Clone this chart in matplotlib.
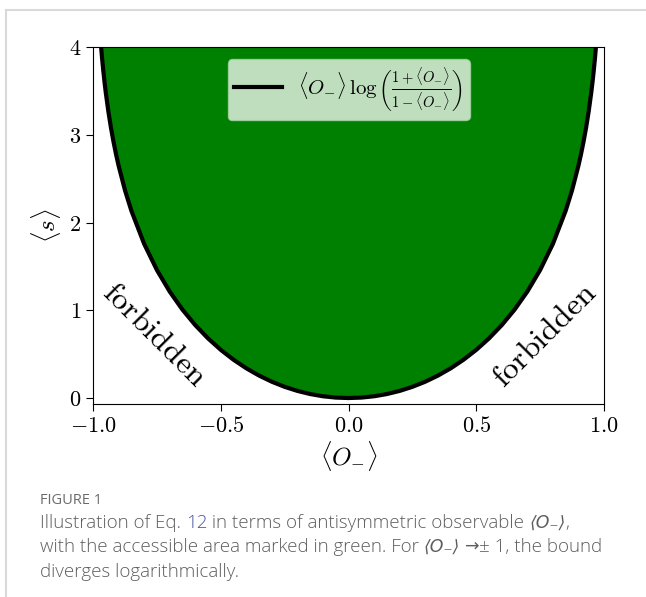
import matplotlib
matplotlib.use("Agg")
from matplotlib import pyplot as plt
from matplotlib.lines import Line2D

plt.rcParams['mathtext.fontset'] = 'cm'

# values of the bound curve (right half, mirrored for the left)
o_pos = [0.0, 0.05, 0.1, 0.15, 0.2, 0.25, 0.3, 0.35, 0.4, 0.45, 0.5, 0.55, 0.6,
         0.65, 0.7, 0.75, 0.8, 0.85, 0.875, 0.9, 0.91, 0.92, 0.93, 0.94, 0.95,
         0.955, 0.96, 0.965, 0.97, 0.975]
s_pos = [0.0, 0.0050, 0.0201, 0.0453, 0.0811, 0.1277, 0.1857, 0.2558, 0.3389,
         0.4362, 0.5493, 0.6802, 0.8318, 1.0079, 1.2142, 1.4594, 1.7578, 2.1355,
         2.3695, 2.6500, 2.7801, 2.9238, 3.0846, 3.2675, 3.4804, 3.6018, 3.7361,
         3.8869, 4.0591, 4.2602]

o_vals = [-v for v in reversed(o_pos[1:])] + o_pos
s_vals = list(reversed(s_pos[1:])) + s_pos

x_ticks = [-1.0, -0.5, 0.0, 0.5, 1.0]
y_ticks = [0, 1, 2, 3, 4]
legend_label = r"$\langle O_{-}\rangle\,\log\left(\frac{1+\langle O_{-}\rangle}{1-\langle O_{-}\rangle}\right)$"

fig = plt.figure(figsize=(6.46, 5.97), dpi=100)
ax = fig.add_axes([0.144, 0.323, 0.791, 0.598])

ax.fill_between(o_vals, s_vals, 5, color="green", lw=0)
ax.plot(o_vals, s_vals, color="black", lw=3, label=legend_label)

ax.set_xlim(-1, 1)
ax.set_ylim(-0.07, 4)
ax.set_xticks(x_ticks, labels=[f"${v:.1f}$" for v in x_ticks], fontsize=16)
ax.set_yticks(y_ticks, labels=[f"${v}$" for v in y_ticks], fontsize=16)
ax.tick_params(length=5)
ax.set_xlabel(r"$\langle O_{-}\rangle$", fontsize=18, labelpad=2)
ax.set_ylabel(r"$\langle s\rangle$", fontsize=18, labelpad=4)

ax.text(-0.76, 0.72, r"$\mathrm{forbidden}$", rotation=-45, fontsize=23,
        ha="center", va="center", rotation_mode="anchor")
ax.text(0.77, 0.72, r"$\mathrm{forbidden}$", rotation=45, fontsize=23,
        ha="center", va="center", rotation_mode="anchor")

leg = ax.legend(loc="upper center", fontsize=15, handlelength=2.3,
                bbox_to_anchor=(0.5, 0.995), borderpad=0.3, framealpha=0.75)
leg.get_frame().set_edgecolor("#b0d8b0")

# card border
fig.add_artist(Line2D([6/646, 1], [1-10/597, 1-10/597], color="#d9d9d9", lw=1.5))
fig.add_artist(Line2D([6/646, 6/646], [0, 1-10/597], color="#d9d9d9", lw=1.5))

# caption
gray = "#5e5e5e"
blue = "#4b55a3"
fig.text(40/646, 1-500/597, "FIGURE 1", fontsize=10.5, color="#6b6b6b",
         family="Open Sans", va="center")

fig.canvas.draw()
renderer = fig.canvas.get_renderer()


def put_pieces(pieces, x0, ypx):
    # pieces: (text, colour, symbol?) - symbols go in DejaVu Sans, Open Sans lacks them
    x = x0
    for txt, col, sym in pieces:
        if sym:
            t = fig.text(x, 1-ypx/597, txt, fontsize=12.5, color=col,
                         family="DejaVu Sans", style="italic" if "O" in txt else "normal",
                         va="center")
        else:
            t = fig.text(x, 1-ypx/597, txt, fontsize=13.5, color=col,
                         family="Open Sans", weight="light", va="center")
        bb = t.get_window_extent(renderer)
        x = bb.x1 / fig.bbox.width


put_pieces([("Illustration of Eq. ", gray, False), ("12", blue, False),
            (" in terms of antisymmetric observable ", gray, False),
            ("⟨O₋⟩", gray, True), (",", gray, False)], 40/646, 523)
put_pieces([("with the accessible area marked in green. For ", gray, False),
            ("⟨O₋⟩", gray, True), (" ", gray, False), ("→", gray, True),
            ("± 1, the bound", gray, False)], 40/646, 547)
put_pieces([("diverges logarithmically.", gray, False)], 40/646, 572)

fig.savefig("out.png", dpi=100)
